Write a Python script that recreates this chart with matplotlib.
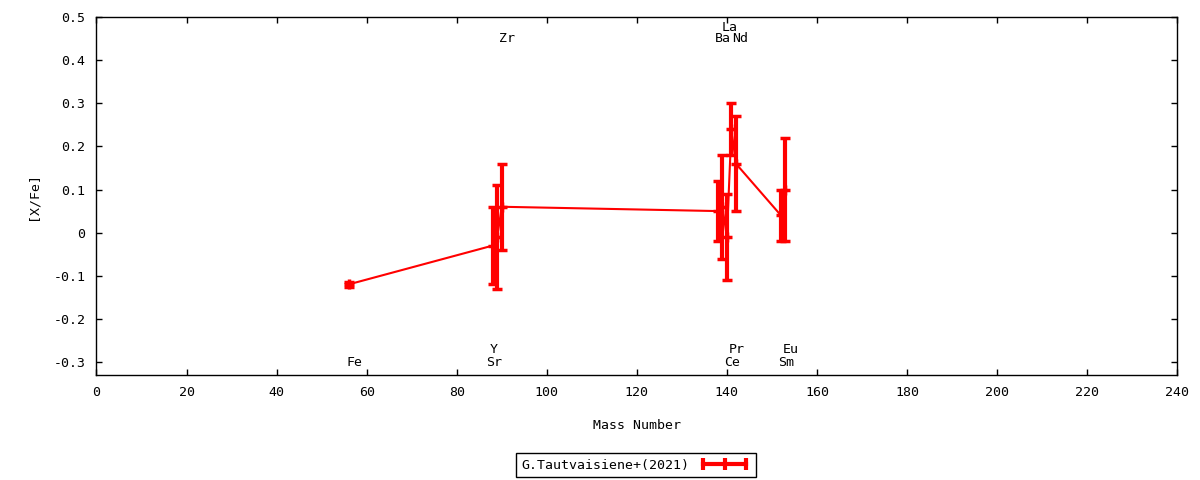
import numpy as np
import matplotlib
matplotlib.use("Agg")
import matplotlib.pyplot as plt
from matplotlib.lines import Line2D

# abundances
elements = ['Fe', 'Sr', 'Y', 'Zr', 'Ba', 'La', 'Ce', 'Pr', 'Nd', 'Sm', 'Eu']
mass = [56, 88, 89, 90, 138, 139, 140, 141, 142, 152, 153]
xfe = [-0.12, -0.03, -0.01, 0.06, 0.05, 0.06, -0.01, 0.24, 0.16, 0.04, 0.10]
err = [0.005, 0.09, 0.12, 0.10, 0.07, 0.12, 0.10, 0.06, 0.11, 0.06, 0.12]

# element name labels (x, y) as placed in the chart
label_x = [57.2, 88.2, 88.2, 91.2, 139.0, 140.5, 141.2, 142.1, 143.0, 153.2, 154.1]
label_y = [-0.30, -0.30, -0.27, 0.45, 0.45, 0.475, -0.30, -0.27, 0.45, -0.30, -0.27]

xticks = np.arange(0, 241, 20)
yticks = [-0.3, -0.2, -0.1, 0, 0.1, 0.2, 0.3, 0.4, 0.5]
ytick_labels = ['-0.3', '-0.2', '-0.1', '0', '0.1', '0.2', '0.3', '0.4', '0.5']

plt.rcParams['font.family'] = ['DejaVu Sans Mono']
plt.rcParams['font.size'] = 9

fig = plt.figure(figsize=(12, 4.8), dpi=100)
ax = fig.add_axes([0.0804, 0.2188, 0.9006, 0.7458])

ax.errorbar(mass, xfe, yerr=err, color='red', lw=1.5, elinewidth=3,
            capsize=3.5, capthick=3, marker='+', markersize=7, mew=2.5)

for name, lx, ly in zip(elements, label_x, label_y):
    ax.text(lx, ly, name, ha='center', va='center', fontsize=9.5)

ax.set_xlim(0, 240)
ax.set_ylim(-0.33, 0.5)
ax.set_xticks(xticks)
ax.set_yticks(yticks)
ax.set_yticklabels(ytick_labels)
ax.tick_params(direction='in', top=True, right=True, length=4, width=1,
               labelsize=9.5, pad=8)
ax.set_xlabel('Mass Number', fontsize=9.5, labelpad=14)
ax.set_ylabel('[X/Fe]', fontsize=9.5, labelpad=10)
for s in ax.spines.values():
    s.set_linewidth(1)

# gnuplot style key sample: horizontal bar with caps
proxy = Line2D([], [], color='red', lw=3, marker='|', markersize=8, mew=3)
leg = fig.legend([proxy], ['G.Tautvaisiene+(2021)'], loc='center',
                 bbox_to_anchor=(0.53, 0.031), markerfirst=False, numpoints=3,
                 fancybox=False, edgecolor='black', framealpha=1,
                 fontsize=9.5, handlelength=3.9, handletextpad=0.7,
                 borderpad=0.1, borderaxespad=0)
leg.get_frame().set_linewidth(1)
leg.get_frame().set_boxstyle('square', pad=0.3)

fig.savefig('out.png', dpi=100)
